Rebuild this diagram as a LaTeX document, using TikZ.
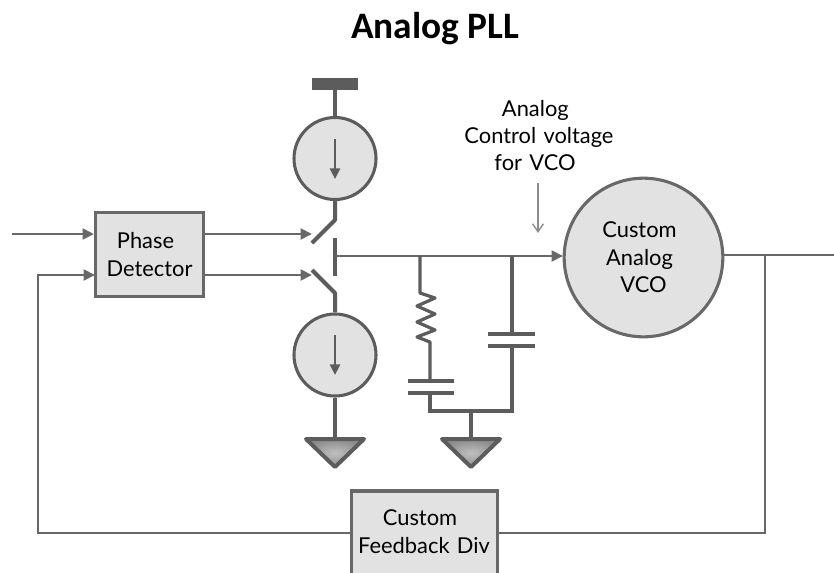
\documentclass[tikz,border=0pt]{standalone}
\usepackage{fontspec}
\setmainfont{Lato}
\newfontfamily\titlefont{Carlito}
\usetikzlibrary{arrows.meta,shapes.geometric}
\definecolor{wire}{HTML}{5C5C5C}
\definecolor{wirelt}{HTML}{686868}
\definecolor{boxfill}{HTML}{E2E2E2}
\tikzset{
  x=0.75pt,y=-0.75pt,
  lbl/.style={font=\fontsize{16.4}{20.6}\selectfont,text=black,inner sep=0pt,align=center,text width=#1},
  lbl/.default=120pt,
  block/.style={draw=wirelt,line width=2.3pt,fill=boxfill,inner sep=0pt},
  source/.style={circle,draw=wire,line width=2.3pt,fill=boxfill,minimum size=61.5pt,inner sep=0pt},
  vcoblock/.style={circle,draw=wirelt,line width=2.3pt,fill=boxfill,minimum size=119pt,inner sep=0pt},
  heavy/.style={draw=wire,line width=3pt},
  sig/.style={draw=wirelt,line width=2.2pt},
  sigarrow/.style={sig,-{Triangle[length=8.5pt,width=8pt]}},
  srcarrow/.style={draw=wire,line width=1.8pt,-{Triangle[length=8pt,width=7.5pt]}},
  noteline/.style={draw=black!45,line width=1pt,-{Straight Barb[length=6pt,width=8pt]}},
  plate/.style={draw=wire,line width=3.7pt},
  gnd/.style={draw=wire,line width=3pt,line join=round,inner color=black!25,outer color=black!45},
}
\begin{document}
\begin{tikzpicture}
\useasboundingbox (0,0) rectangle (834,572);
\clip (0,0) rectangle (834,572);
% title
\node[font=\titlefont\bfseries\fontsize{28}{32}\selectfont,inner sep=0pt] (title) at (435,29) {Analog PLL};
% blocks
\node[block,lbl=75pt,minimum width=81pt,minimum height=63pt] (pd) at (149.5,254.5) {\hspace*{-6pt}Phase\\Detector};
\node[source] (up) at (335,158.5) {};
\node[source] (dn) at (335,355) {};
\node[vcoblock,lbl=80pt] (vco) at (643.5,257.5) {\hspace*{-6pt}Custom\\\hspace*{-6pt}Analog\\VCO};
\node[block,minimum width=110pt,minimum height=90pt] (fb) at (424.5,551) {};
\node[lbl] (fbt) at (424,531.5) {\hspace*{-6pt}Custom\\Feedback Div};
\node[lbl] (note) at (539,135.5) {\hspace*{-5.5pt}Analog\\Control voltage\\\hspace*{-6pt}for VCO};
% named points
\coordinate (vtop) at (335,83);
\coordinate (in1) at (12,234);
\coordinate (pdin1) at (pd.west |- in1);
\coordinate (pdin2) at (95,275);
\coordinate (pdout1) at (204,234);
\coordinate (pdout2) at (204,275);
\coordinate (sw1) at (312,234);
\coordinate (sw2) at (312,275);
\coordinate (fbl) at (38,533);
\coordinate (fbu) at (38,275);
\coordinate (fbw) at (351,533);
\coordinate (fbe) at (498,533);
\coordinate (tapb) at (765,533);
\coordinate (tapt) at (765,255);
\coordinate (outr) at (834,255);
\coordinate (vcow) at (563,256);
\coordinate (vcoe) at (724,255);
\coordinate (cont) at (335,256);
\coordinate (noteA) at (538,183);
\coordinate (noteB) at (538,233);
% supply bar
\draw[draw=wire,line width=9pt] (312,84) -- (358,84);
\draw[heavy] (vtop) -- (up.north);
\node[inner sep=0pt] (upa) at (335,138) {};
\node[inner sep=0pt] (upb) at (335,180) {};
\draw[srcarrow] (upa) -- (upb);
\node[inner sep=0pt] (dna) at (335,334) {};
\node[inner sep=0pt] (dnb) at (335,376) {};
\draw[srcarrow] (dna) -- (dnb);
% switches
\coordinate (kneeU) at (335,220);
\coordinate (bladeU) at (312,243);
\coordinate (kneeD) at (335,293);
\coordinate (bladeD) at (312,270);
\draw[heavy,line join=round] (up.south) -- (kneeU) -- (bladeU);
\draw[heavy,line join=round] (dn.north) -- (kneeD) -- (bladeD);
\draw[heavy] (335,238) -- (335,276);
% inputs
\draw[sigarrow] (in1) -- (pdin1);
\draw[sigarrow] (fbw) -- (fbl) -- (fbu) -- (pdin2);
\draw[sigarrow] (pdout1) -- (sw1);
\draw[sigarrow] (pdout2) -- (sw2);
% main node
\draw[sigarrow] (cont) -- (vcow);
\draw[sig] (vcoe) -- (outr);
\draw[sig] (tapt) -- (tapb) -- (fbe);
\draw[noteline] (noteA) -- (noteB);
% loop filter
\coordinate (rtop) at (420,256);
\coordinate (ctop) at (512,256);
\coordinate (busL) at (430,411);
\coordinate (busR) at (512,411);
\coordinate (busG) at (471,411);
\draw[heavy,line width=2.4pt,line join=round] (rtop) -- (420,293) -- (435,298) -- (417,306) -- (435,314) -- (417,322) -- (435,330) -- (417,337) -- (430,342) -- (430,381);
\draw[plate] (408,381) -- (454,381);
\draw[plate] (408,393) -- (454,393);
\draw[heavy,line join=miter] (430,393) -- (busL) -- (busR) -- (512,346);
\draw[heavy] (ctop) -- (512,334);
\draw[plate] (488,334) -- (535,334);
\draw[plate] (488,346) -- (535,346);
% grounds
\draw[gnd] (306,439) -- (364,439) -- (335,467) -- cycle;
\draw[gnd] (442,439) -- (500,439) -- (471,467) -- cycle;
\draw[heavy] (dn.south) -- (335,439);
\draw[heavy] (busG) -- (471,439);
\end{tikzpicture}
\end{document}
